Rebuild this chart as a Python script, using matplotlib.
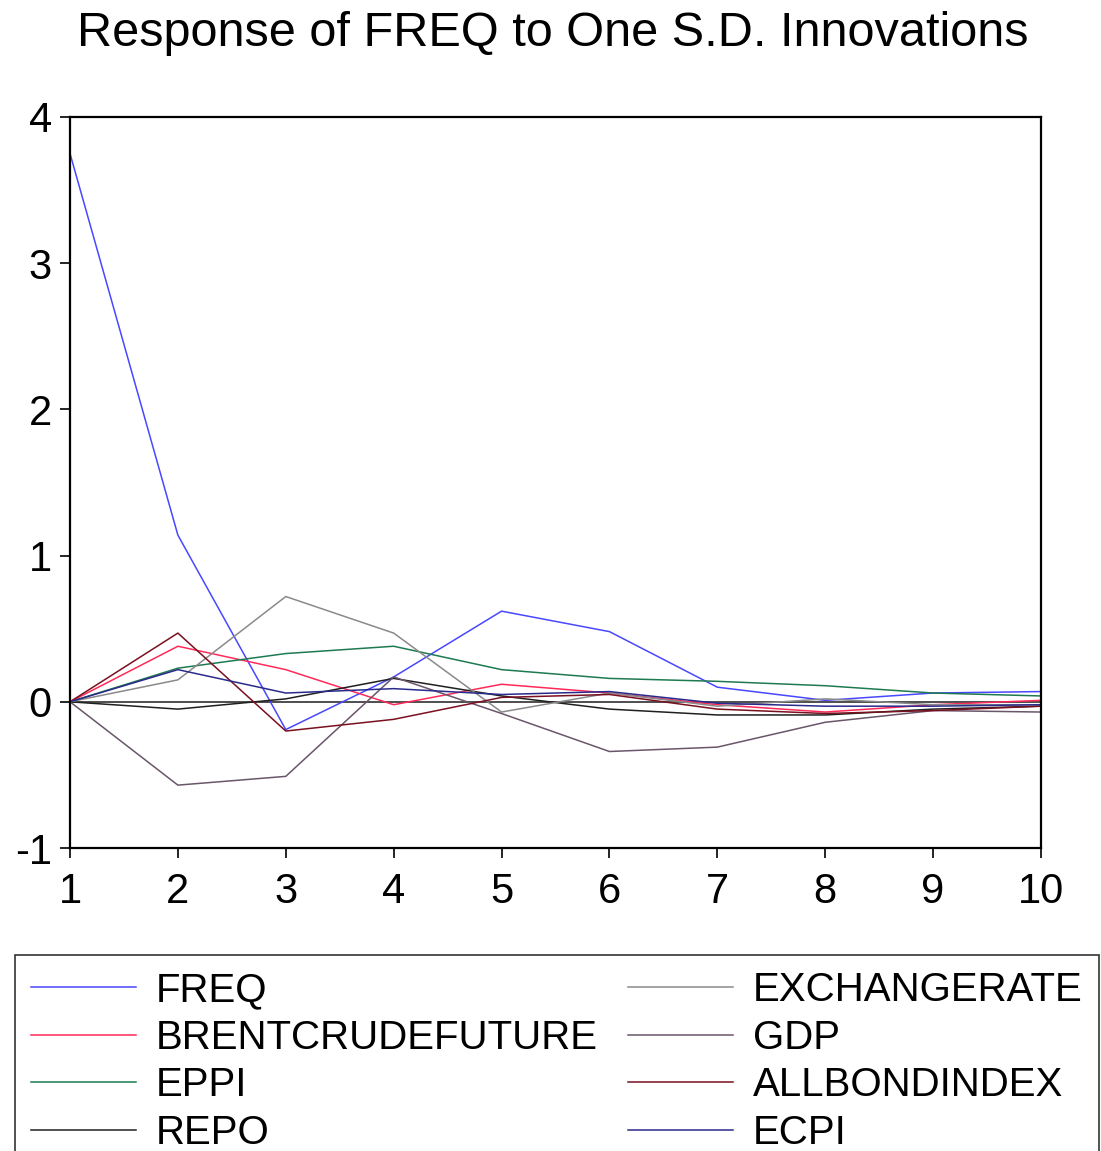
import matplotlib
matplotlib.use("Agg")
import matplotlib.pyplot as plt

periods = [1, 2, 3, 4, 5, 6, 7, 8, 9, 10]

freq = [3.75, 1.14, -0.19, 0.17, 0.62, 0.48, 0.10, 0.01, 0.06, 0.07]
brentcrudefuture = [0.0, 0.38, 0.22, -0.02, 0.12, 0.06, -0.02, -0.07, -0.02, 0.01]
eppi = [0.0, 0.23, 0.33, 0.38, 0.22, 0.16, 0.14, 0.11, 0.06, 0.04]
repo = [0.0, -0.05, 0.02, 0.16, 0.04, -0.05, -0.09, -0.09, -0.05, -0.03]
exchangerate = [0.0, 0.15, 0.72, 0.47, -0.07, 0.06, -0.03, 0.02, -0.02, -0.02]
gdp = [0.0, -0.57, -0.51, 0.17, -0.08, -0.34, -0.31, -0.14, -0.06, -0.07]
allbondindex = [0.0, 0.47, -0.20, -0.12, 0.03, 0.05, -0.05, -0.08, -0.06, -0.03]
ecpi = [0.0, 0.22, 0.06, 0.09, 0.05, 0.07, -0.01, -0.03, -0.03, -0.02]

series_names = ["FREQ", "BRENTCRUDEFUTURE", "EPPI", "REPO",
                "EXCHANGERATE", "GDP", "ALLBONDINDEX", "ECPI"]
series_values = [freq, brentcrudefuture, eppi, repo,
                 exchangerate, gdp, allbondindex, ecpi]
series_colors = ["#4848ff", "#ff2a5a", "#1e7a50", "#202020",
                 "#8a8a8a", "#6a566a", "#7a1020", "#2a2a8c"]

y_ticks = [-1, 0, 1, 2, 3, 4]

plt.rcParams['font.family'] = ['Liberation Sans', 'DejaVu Sans']
plt.rcParams['axes.unicode_minus'] = False

fig = plt.figure(figsize=(11.01, 11.51), dpi=100)
ax = fig.add_axes([70 / 1101, 1 - 848 / 1151, (1041 - 70) / 1101, (848 - 117) / 1151])

ax.axhline(0, color="#303030", lw=1.2, zorder=1)
handles = []
for name, vals, col in zip(series_names, series_values, series_colors):
    h, = ax.plot(periods, vals, color=col, lw=1.1, label=name, zorder=2)
    handles.append(h)

ax.set_xlim(1, 10)
ax.set_ylim(-1, 4)
ax.set_xticks(periods)
ax.set_yticks(y_ticks)
ax.tick_params(axis='both', labelsize=30, length=7, width=1.2, direction='out')
ax.tick_params(axis='x', pad=10)
ax.tick_params(axis='y', pad=6)
for s in ax.spines.values():
    s.set_linewidth(1.6)
    s.set_color("black")

fig.text(553 / 1101, 1 - 33 / 1151, "Response of FREQ to One S.D. Innovations",
         ha='center', va='center', fontsize=35)

leg = fig.legend(handles=handles, labels=series_names, ncol=2,
                 loc='upper left', bbox_to_anchor=(15 / 1101, 1 - 955 / 1151),
                 fontsize=29, frameon=True, fancybox=False, edgecolor='black',
                 handlelength=2.6, handletextpad=0.5, columnspacing=0.75,
                 borderpad=0.4, labelspacing=0.24, borderaxespad=0)
leg.get_frame().set_linewidth(1.2)

fig.savefig("out.png", dpi=100)
